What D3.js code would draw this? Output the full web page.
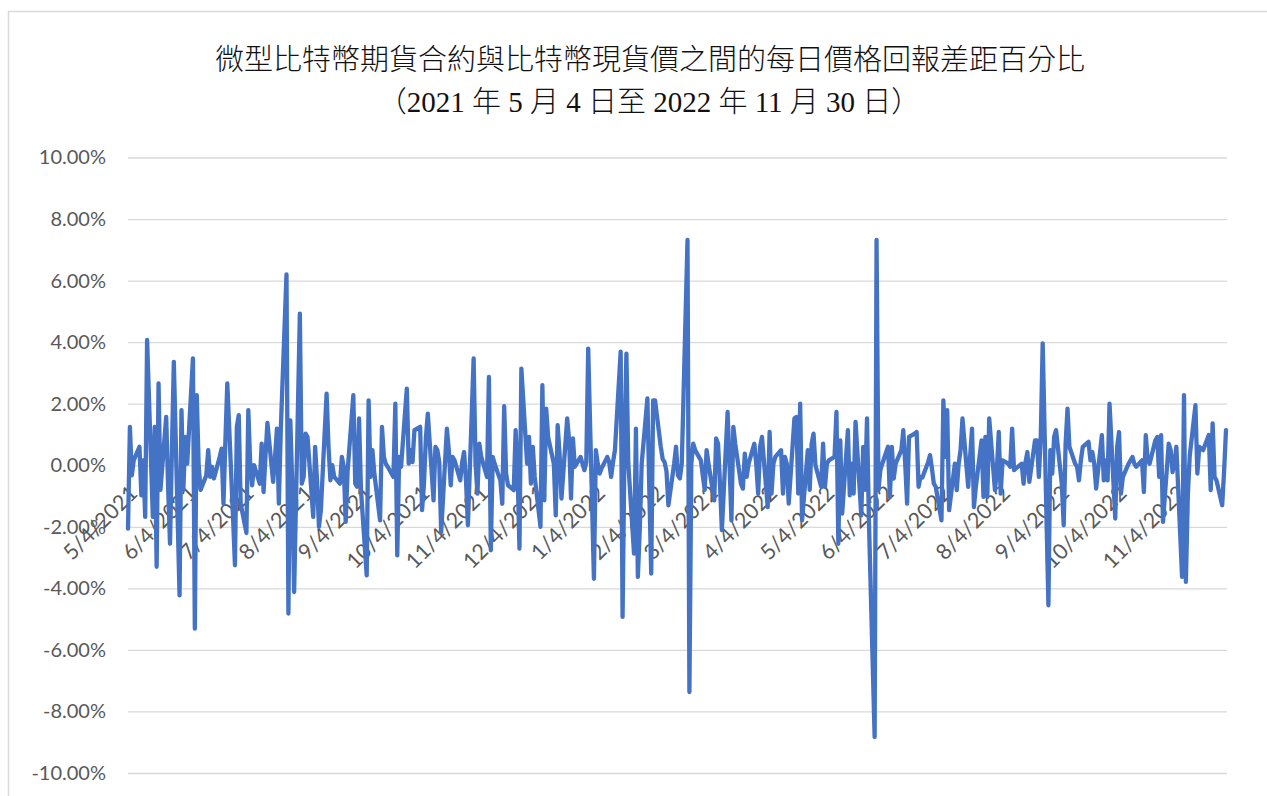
<!DOCTYPE html>
<html>
<head>
<meta charset="utf-8">
<script src="https://cdnjs.cloudflare.com/ajax/libs/d3/7.8.5/d3.min.js"></script>
<style>
  html, body { margin: 0; padding: 0; background: #ffffff; }
  svg { display: block; }
</style>
</head>
<body>
<svg id="chart" width="1267" height="796"></svg>
<script>
// ---------- Text ----------
const titleLine1 = "微型比特幣期貨合約與比特幣現貨價之間的每日價格回報差距百分比";
const titleLine2 = "（2021 年 5 月 4 日至 2022 年 11 月 30 日）";

// ---------- Axis ticks ----------
const yTicks = [-10, -8, -6, -4, -2, 0, 2, 4, 6, 8, 10];
const xTickLabels = ["5/4/2021", "6/4/2021", "7/4/2021", "8/4/2021", "9/4/2021", "10/4/2021",
  "11/4/2021", "12/4/2021", "1/4/2022", "2/4/2022", "3/4/2022", "4/4/2022", "5/4/2022",
  "6/4/2022", "7/4/2022", "8/4/2022", "9/4/2022", "10/4/2022", "11/4/2022"];

// ---------- Daily spread (%) per month, one value per weekday ----------
const may2021 = [-2.06, 1.25, -0.33, 0.16, 0.6, -0.98, 0.16, -1.68, 4.07, -1.68, 1.25, -3.3, 2.66, -0.8, 1.57, -0.7, -2.55, 0.5, 3.36, -4.23];
const jun2021 = [1.79, -0.8, 0.92, 0.05, 3.47, -5.31, 2.28, 0.0, -0.8, -0.33, 0.49, -0.38, -0.05, -0.43, 0.27, 0.54, -1.25, 0.8, 2.66, -1.68, -3.25, 1.25];
const jul2021 = [1.63, -1.25, -2.2, 1.79, 0.05, -0.65, 0.0, -0.6, 0.7, -0.87, 0.3, 1.38, -0.54, 0.27, 1.19, -1.25, 1.14, 6.2, -4.82, 1.46, -0.6, -4.12];
const aug2021 = [4.93, -0.6, -0.38, 1.03, 0.92, -1.68, 0.6, -0.5, -2.0, -1.46, 2.33, 0.6, -0.49, 0.0, -0.38, -0.6, 0.27, -0.05, -1.84, -0.2, 2.28, -0.6];
const sep2021 = [-0.7, 1.52, -0.8, -3.58, 2.11, -0.38, 0.49, -0.27, -1.79, 1.25, 0.27, 0.05, -0.05, -0.38, 2.0, -2.93, 0.27, -0.05, 2.49, 0.05, 0.49, 0.1];
const oct2021 = [1.14, 1.25, -1.46, -0.6, 0.9, 1.68, -1.14, 0.6, 0.49, 0.1, -2.17, 1.19, 0.49, -0.65, 0.27, 0.16, -0.49, 0.1, 0.43, -0.49, -1.95];
const nov2021 = [3.47, 0.05, -0.92, 0.7, 0.27, -0.38, 2.87, -2.76, 0.27, 0.05, -0.49, -1.25, 1.92, -0.27, -0.65, -0.81, 1.14, -0.16, -2.71, 3.14, 0.05, 0.92];
const dec2021 = [-0.6, 0.6, -0.38, -2.0, 2.6, -1.14, 1.84, 0.92, 0.05, -1.63, 1.3, 0.38, -1.08, 1.52, 0.81, -1.08, 0.87, -0.05, 0.27, 0.05, -0.16, 0.1, 3.79];
const jan2022 = [-3.69, 0.49, 0.05, -0.27, -0.1, 0.27, 0.1, -0.38, 0.1, 0.49, 3.69, -4.93, 0.6, 3.63, 0.05, -2.87, 1.19, -3.63, -2.1, 0.05, 2.17];
const feb2022 = [-0.8, -3.52, 2.11, 2.11, 0.6, 0.2, 0.1, -0.2, -1.3, 0.05, 0.6, -0.33, -0.43, 0.05, 7.32, -7.37, 0.05, 0.7, 0.49, 0.16];
const mar2022 = [-0.33, -0.8, 0.49, 0.05, -1.14, 0.87, 0.7, -0.6, -2.11, 1.73, 0.05, -1.79, 1.25, 0.7, -0.6, -0.76, 0.38, -0.38, 0.05, 0.7, 0.05, -0.92, 0.6];
const apr2022 = [0.92, -1.36, 1.08, -0.92, 0.05, 0.27, 0.49, -0.92, 0.27, 0.05, -1.25, 1.52, 1.57, -0.92, 2.0, -1.79, 0.49, -0.8, 0.7, 1.03, 0.0];
const may2022 = [-0.7, 0.7, -0.7, 0.05, 0.16, 0.27, 1.73, -2.55, 0.81, -1.57, 1.14, -0.98, 0.05, -0.92, 1.41, -1.63, 0.6, -0.8, 1.52, -1.79, -8.83, 7.32];
const jun2022 = [-0.8, -0.16, 0.05, 0.6, -1.03, 0.6, -0.43, 0.05, 0.49, 1.14, 0.05, -1.25, 0.92, 1.03, 1.08, -0.7, -0.38, -0.4, 0.1, 0.33, -0.1, -0.6];
const jul2022 = [-0.7, -1.79, 2.11, 0.27, 1.79, -1.46, 0.05, -0.81, 0.05, 0.49, 1.52, -0.7, 0.27, 1.19, -1.36, -0.7, 0.81, -1.03, 0.92, -1.03, 1.52];
const aug2022 = [-0.81, -0.16, 1.08, -0.92, 0.16, 0.05, -0.05, 1.19, -0.16, -0.1, 0.05, -0.6, 0.1, 0.43, -0.54, 0.81, 0.81, -0.38, 0.92, 3.96, -4.55, 0.49, -0.27];
const sep2022 = [0.92, 1.14, -0.6, -1.95, 0.7, 1.84, 0.6, 0.05, -0.05, -0.49, 0.16, 0.6, 0.76, 0.16, 0.43, 0.05, -0.76, 0.98, -0.49, 0.16, -0.49, 2.0];
const oct2022 = [-1.73, 0.6, 1.08, -0.92, -0.38, 0.05, 0.16, 0.27, 0.05, -0.05, 0.16, -0.87, 0.98, 0.16, 0.05, 0.81, 0.92, -0.38, 0.98, -1.84, 0.7];
const nov2022 = [0.5, -0.22, 0.05, 0.6, -3.63, 2.28, -3.79, -1.0, 0.3, 1.95, -0.27, 0.6, 0.54, 0.49, 0.98, -0.81, 1.36, -0.38, -0.49, -1.3, -0.2, 1.14];

const monthSeries = [
  [2021, 4, may2021], [2021, 5, jun2021], [2021, 6, jul2021], [2021, 7, aug2021],
  [2021, 8, sep2021], [2021, 9, oct2021], [2021, 10, nov2021], [2021, 11, dec2021],
  [2022, 0, jan2022], [2022, 1, feb2022], [2022, 2, mar2022], [2022, 3, apr2022],
  [2022, 4, may2022], [2022, 5, jun2022], [2022, 6, jul2022], [2022, 7, aug2022],
  [2022, 8, sep2022], [2022, 9, oct2022], [2022, 10, nov2022]
];

const startDate = new Date(2021, 4, 4);
const endDate = new Date(2022, 10, 30);

// Build the daily series: each month's values are placed on that month's weekdays
const data = [];
monthSeries.forEach(([yr, mo, vals]) => {
  const days = d3.timeDay.range(new Date(yr, mo, 1), new Date(yr, mo + 1, 1))
    .filter(d => d.getDay() !== 0 && d.getDay() !== 6 && d >= startDate && d <= endDate);
  vals.forEach((v, i) => {
    const idx = vals.length === days.length ? i
      : Math.round(i * (days.length - 1) / Math.max(1, vals.length - 1));
    data.push({ date: days[idx], value: v });
  });
});

// ---------- Layout ----------
const svg = d3.select("#chart");
const plotLeft = 128, plotRight = 1227;

svg.append("rect")
  .attr("x", 8.5).attr("y", 11.5)
  .attr("width", 1400).attr("height", 1000)
  .attr("fill", "#ffffff")
  .attr("stroke", "#d9d9d9").attr("stroke-width", 1.5);

const x = d3.scaleTime().domain([startDate, endDate]).range([128, 1226]);
const y = d3.scaleLinear().domain([-10, 10]).range([773, 157.5]);

// Title
const titleFont = "'Liberation Serif', 'Noto Sans CJK TC', serif";
svg.append("text")
  .attr("x", 650).attr("y", 69.5)
  .attr("text-anchor", "middle")
  .attr("font-family", titleFont)
  .attr("font-size", 29)
  .attr("font-weight", 300)
  .attr("fill", "#111")
  .text(titleLine1);
svg.append("text")
  .attr("x", 649).attr("y", 111.5)
  .attr("text-anchor", "middle")
  .attr("font-family", titleFont)
  .attr("font-size", 29)
  .attr("font-weight", 300)
  .attr("fill", "#111")
  .text(titleLine2);

const labelFont = "Lato, 'Noto Sans', sans-serif";

// Y axis with gridlines
const yAxis = d3.axisLeft(y)
  .tickValues(yTicks)
  .tickSize(-(plotRight - plotLeft))
  .tickPadding(22)
  .tickFormat(d => d.toFixed(2) + "%");

const gy = svg.append("g")
  .attr("transform", `translate(${plotLeft},0)`)
  .call(yAxis);
gy.select(".domain").remove();
gy.selectAll(".tick line").attr("stroke", "#d9d9d9").attr("stroke-width", 1.3);
gy.selectAll(".tick text")
  .attr("font-family", labelFont)
  .attr("font-size", 20)
  .attr("fill", "#595959");

// X axis (date labels, rotated)
const parseLabel = d3.timeParse("%-m/%-d/%Y");
const xTickDates = xTickLabels.map(parseLabel);
const xAxis = d3.axisBottom(x)
  .tickValues(xTickDates)
  .tickSize(0)
  .tickFormat(d3.timeFormat("%-m/%-d/%Y"));

const gx = svg.append("g")
  .attr("transform", `translate(0,${y(0)})`)
  .call(xAxis);
gx.select(".domain").remove();
gx.selectAll(".tick line").remove();
gx.selectAll(".tick text")
  .attr("font-family", labelFont)
  .attr("font-size", 21.5)
  .attr("fill", "#595959")
  .attr("text-anchor", "end")
  .attr("y", 0)
  .attr("dy", "0.35em")
  .attr("transform", "translate(5,24) rotate(-45)");

// Series line
const line = d3.line()
  .x(d => x(d.date))
  .y(d => y(d.value));

svg.append("path")
  .datum(data)
  .attr("fill", "none")
  .attr("stroke", "#4472C4")
  .attr("stroke-width", 4.3)
  .attr("stroke-linejoin", "round")
  .attr("stroke-linecap", "round")
  .attr("d", line);
</script>
</body>
</html>
